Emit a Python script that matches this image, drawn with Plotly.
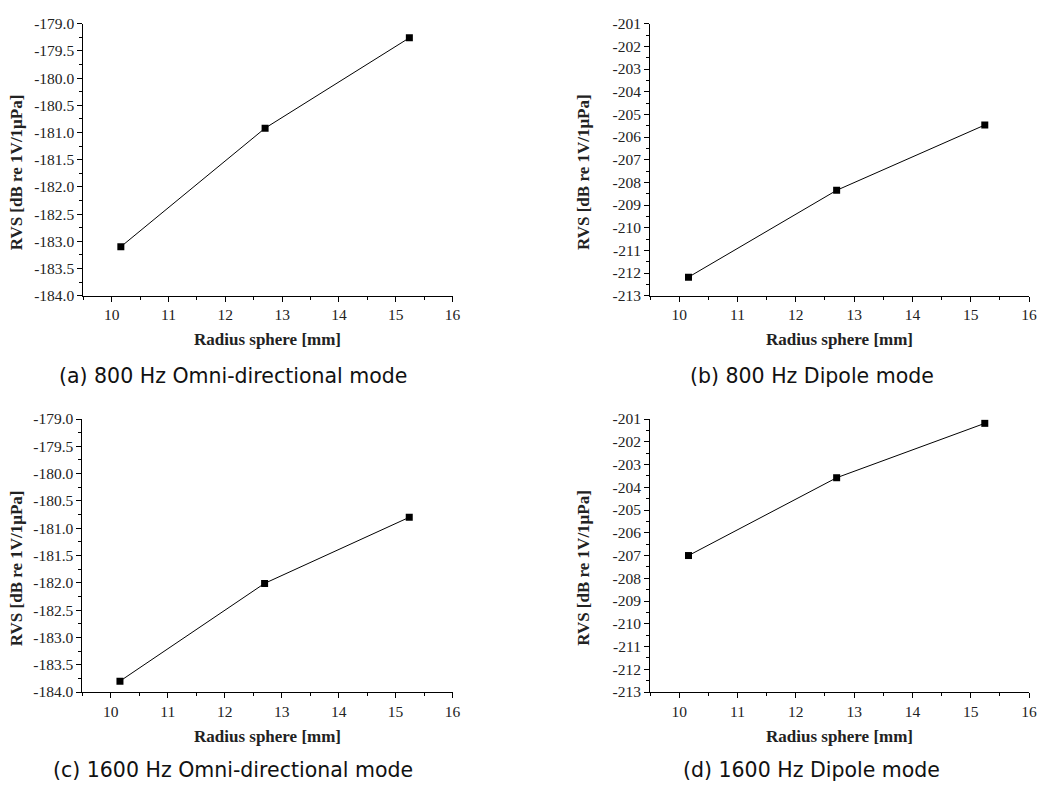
import plotly.graph_objects as go

radius = [10.16, 12.70, 15.24]
rvs_800_omni = [-183.10, -180.92, -179.26]
rvs_800_dipole = [-212.18, -208.35, -205.47]
rvs_1600_omni = [-183.80, -182.01, -180.80]
rvs_1600_dipole = [-207.00, -203.58, -201.19]

captions = ["(a) 800 Hz Omni-directional mode", "(b) 800 Hz Dipole mode",
            "(c) 1600 Hz Omni-directional mode", "(d) 1600 Hz Dipole mode"]
x_ticks = [10, 11, 12, 13, 14, 15, 16]
omni_ticks = [-179.0, -179.5, -180.0, -180.5, -181.0, -181.5, -182.0, -182.5, -183.0, -183.5, -184.0]
dipole_ticks = list(range(-201, -214, -1))
x_title = "Radius sphere [mm]"
y_title = "RVS [dB re 1V/1\u03bcPa]"

W, H = 1051, 794
# plot areas in pixels: (left, right, top, bottom)
areas = [(84, 456, 15, 293), (655, 1037, 15, 293), (83, 456, 419, 698), (655, 1037, 419, 698)]
series = [rvs_800_omni, rvs_800_dipole, rvs_1600_omni, rvs_1600_dipole]
kinds = ["omni", "dipole", "omni", "dipole"]

fig = go.Figure()
serif = "Liberation Serif"
tickfont = dict(family=serif, size=15.5, color="#222")
annotations = []
for i, (area, ys, kind, cap) in enumerate(zip(areas, series, kinds, captions)):
    l, r, t, b = area
    n = "" if i == 0 else str(i + 1)
    fig.add_trace(go.Scatter(x=radius, y=ys, mode="lines+markers",
                             line=dict(color="black", width=1),
                             marker=dict(symbol="square", size=7, color="black"),
                             xaxis="x" + n, yaxis="y" + n, showlegend=False))
    if kind == "omni":
        tv = omni_ticks
        tt = ["%.1f" % v for v in tv]
        yr = [-184.0, -179.0]
        mdt = 0.25
        m0 = -184.0
    else:
        tv = dipole_ticks
        tt = ["%d" % v for v in tv]
        yr = [-213, -201]
        mdt = 0.5
        m0 = -213
    xd = [l / W, r / W]
    yd = [1 - b / H, 1 - t / H]
    fig.layout["xaxis" + n] = dict(
        domain=xd, anchor="y" + n, range=[9.5, 16], tickmode="array",
        tickvals=x_ticks, ticktext=[str(v) for v in x_ticks],
        ticks="outside", ticklen=5, tickwidth=1, tickcolor="black",
        showline=True, linecolor="black", linewidth=1, showgrid=False, zeroline=False,
        tickfont=tickfont,
        minor=dict(tickmode="linear", tick0=9.5, dtick=0.5, ticks="outside", ticklen=3,
                   tickcolor="black", showgrid=False),
    )
    fig.layout["yaxis" + n] = dict(
        domain=yd, anchor="x" + n, range=yr, tickmode="array",
        tickvals=tv, ticktext=tt,
        ticks="outside", ticklen=5, tickwidth=1, tickcolor="black",
        showline=True, linecolor="black", linewidth=1, showgrid=False, zeroline=False,
        tickfont=tickfont,
        minor=dict(tickmode="linear", tick0=m0, dtick=mdt, ticks="outside", ticklen=3,
                   tickcolor="black", showgrid=False),
    )
    # x-axis title
    annotations.append(dict(text="<b>%s</b>" % x_title, x=(l + r) / 2 / W, y=1 - (b + 45) / H,
                            xref="paper", yref="paper", showarrow=False,
                            xanchor="center", yanchor="middle",
                            font=dict(family=serif, size=17, color="#222")))
    # y-axis title
    annotations.append(dict(text="<b>%s</b>" % y_title, x=(l - 67) / W, y=1 - ((t + b) / 2 + 13) / H,
                            xref="paper", yref="paper", showarrow=False, textangle=-90,
                            xanchor="center", yanchor="middle",
                            font=dict(family=serif, size=17, color="#222")))
    # caption
    cx = 235 if i % 2 == 0 else 818
    cy = 375 if i < 2 else 778
    annotations.append(dict(text=cap, x=cx / W, y=1 - cy / H, xref="paper", yref="paper",
                            showarrow=False, xanchor="center", yanchor="middle",
                            font=dict(family="DejaVu Sans", size=20.5, color="#111")))

fig.update_layout(width=W, height=H, margin=dict(l=0, r=0, t=0, b=0),
                  paper_bgcolor="white", plot_bgcolor="white",
                  font=dict(family=serif),
                  annotations=annotations)
fig.write_html("out.html")
